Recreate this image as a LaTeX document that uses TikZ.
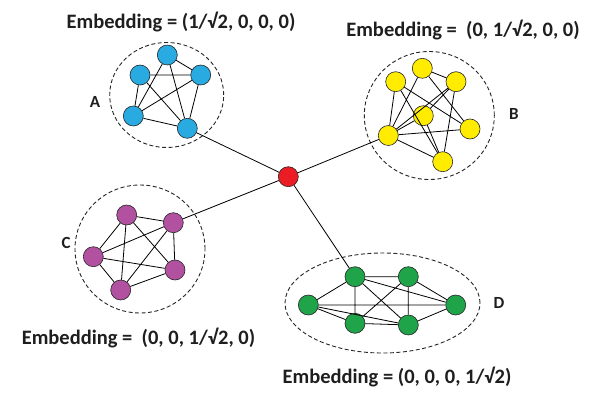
\documentclass[tikz,border=0pt]{standalone}
\usepackage{fontspec}
\setmainfont{Carlito}
\usetikzlibrary{shapes.geometric}
\definecolor{cA}{RGB}{41,171,226}
\definecolor{cB}{RGB}{255,236,0}
\definecolor{cC}{RGB}{178,81,160}
\definecolor{cD}{RGB}{32,164,74}
\definecolor{cR}{RGB}{235,28,36}
\definecolor{ink}{RGB}{30,30,30}
\begin{document}
\begin{tikzpicture}[x=1pt,y=-1pt,
  vtx/.style={circle, draw=black!85, line width=0.6pt, minimum size=20pt, inner sep=0pt},
  edge/.style={black, line width=0.8pt},
  grp/.style={draw=black!85, dash pattern=on 4pt off 2.5pt, line width=0.9pt},
  emb/.style={text=ink, font=\bfseries\fontsize{20.5}{24}\selectfont, inner sep=0pt},
  lab/.style={text=ink, font=\bfseries\fontsize{17}{20}\selectfont, inner sep=0pt}]
\useasboundingbox (0,0) rectangle (604,404);
% group outlines
\node[grp, ellipse, minimum width=114pt, minimum height=105pt] (gA) at (166.7,95) {};
\node[grp, ellipse, minimum width=130pt, minimum height=128pt] (gB) at (429.3,115.5) {};
\node[grp, ellipse, minimum width=130pt, minimum height=128pt] (gC) at (140,249) {};
\node[grp, ellipse, minimum width=195pt, minimum height=100pt] (gD) at (382.5,303) {};
% cluster A
\node[vtx, fill=cA] (a1) at (167.3,55) {};
\node[vtx, fill=cA] (a2) at (140,75) {};
\node[vtx, fill=cA] (a3) at (200.7,75) {};
\node[vtx, fill=cA] (a4) at (133.3,116) {};
\node[vtx, fill=cA] (a5) at (187.3,128.3) {};
% cluster B
\node[vtx, fill=cB] (b1) at (422.3,68.3) {};
\node[vtx, fill=cB] (b2) at (395.7,81.7) {};
\node[vtx, fill=cB] (b3) at (456,81.7) {};
\node[vtx, fill=cB] (b4) at (423.3,115.7) {};
\node[vtx, fill=cB] (b5) at (470,129) {};
\node[vtx, fill=cB] (b6) at (388.3,135.5) {};
\node[vtx, fill=cB] (b7) at (442.7,161.7) {};
% cluster C
\node[vtx, fill=cC] (c1) at (126.7,215) {};
\node[vtx, fill=cC] (c2) at (173.3,222.7) {};
\node[vtx, fill=cC] (c3) at (93.3,256.7) {};
\node[vtx, fill=cC] (c4) at (175,270) {};
\node[vtx, fill=cC] (c5) at (120.7,290) {};
% cluster D
\node[vtx, fill=cD] (d1) at (355,276.7) {};
\node[vtx, fill=cD] (d2) at (408.3,276.7) {};
\node[vtx, fill=cD] (d3) at (308.3,305) {};
\node[vtx, fill=cD] (d4) at (455.7,305) {};
\node[vtx, fill=cD] (d5) at (355,323.3) {};
\node[vtx, fill=cD] (d6) at (408.3,325) {};
% hub
\node[vtx, fill=cR] (r) at (288.3,176.7) {};
% edges
\draw[edge] (a1)--(a3) (a1)--(a4) (a1)--(a5) (a2)--(a3) (a2)--(a4) (a2)--(a5)
  (a3)--(a4) (a3)--(a5) (a4)--(a5);
\draw[edge] (b1)--(b3) (b1)--(b6) (b1)--(b5) (b2)--(b6) (b2)--(b5) (b2)--(b7)
  (b3)--(b6) (b3)--(b4) (b3)--(b7) (b4)--(b6) (b4)--(b7) (b6)--(b5) (b6)--(b7);
\draw[edge] (c1)--(c2) (c1)--(c3) (c1)--(c4) (c1)--(c5) (c2)--(c3) (c2)--(c4)
  (c2)--(c5) (c3)--(c4) (c3)--(c5) (c4)--(c5);
\draw[edge] (d3)--(d1) (d3)--(d5) (d3)--(d4) (d3)--(d6) (d1)--(d2) (d1)--(d5)
  (d1)--(d6) (d1)--(d4) (d2)--(d5) (d2)--(d6) (d2)--(d4) (d5)--(d6) (d6)--(d4);
\draw[edge] (r)--(a5) (r)--(b6) (r)--(c2) (r)--(d1);
% labels
\node[lab] (lA) at (95,101.5) {A};
\node[lab] (lB) at (514,114) {B};
\node[lab] (lC) at (66,242.7) {C};
\node[lab] (lD) at (499,303) {D};
\node[emb] (eA) at (181,21.7) {Embedding = (1/√2, 0, 0, 0)};
\node[emb] (eB) at (463,30) {Embedding =\ \ (0, 1/√2, 0, 0)};
\node[emb] (eC) at (138.5,337.7) {Embedding =\ \ (0, 0, 1/√2, 0)};
\node[emb] (eD) at (397,377) {Embedding = (0, 0, 0, 1/√2)};
\end{tikzpicture}
\end{document}
